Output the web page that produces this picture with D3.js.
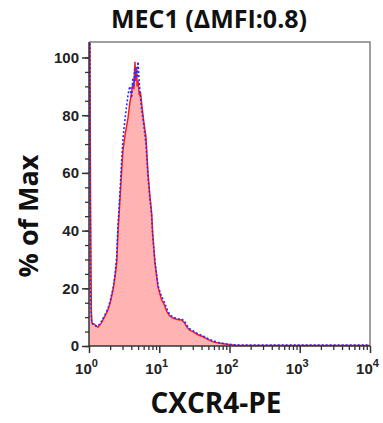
<!DOCTYPE html>
<html>
<head>
<meta charset="utf-8">
<script src="https://cdn.jsdelivr.net/npm/d3@7/dist/d3.min.js"></script>
<style>
  body { margin: 0; background: #fff; }
  .tick text { font-family: "Liberation Sans", Arial, sans-serif; font-weight: bold; fill: #222; }
  .lbl { font-family: "Open Sans", sans-serif; font-weight: bold; fill: #111; }
</style>
</head>
<body>
<div id="chart"></div>
<script>
// CXCR4-PE fluorescence (log), % of Max
const xs = [1.0, 1.03, 1.05, 1.08, 1.1, 1.2, 1.34, 1.5, 1.7, 1.86, 2.0, 2.2, 2.35, 2.48, 2.59,
  2.76, 2.9, 3.05, 3.3, 3.59, 3.8, 4.05, 4.2, 4.35, 4.45, 4.52, 4.6, 4.75, 4.85, 4.98,
  5.2, 5.4, 5.62, 6.0, 6.47, 6.91, 7.3, 7.8, 8.07, 8.7, 9.6, 10.8, 11.5, 12.8, 14,
  15.7, 18, 20.9, 23, 24.6, 27, 30.2, 35, 41.9, 50, 58.2, 70, 91, 120, 200, 1000, 10000];

const redY = [106, 106, 52, 12, 8, 7.5, 6.5, 8, 10.5, 12.5, 15, 19.5, 24, 29, 40,
  51, 60, 68, 74, 79, 84, 88, 91, 89, 95, 98.5, 92, 96, 90, 92,
  87, 88, 84, 78, 72.5, 60, 53, 46, 39, 28.7, 20.5, 16, 15, 12, 10.5,
  9.7, 9.2, 9, 8, 6.7, 5.5, 5, 4, 3.2, 2.2, 1.5, 1, 0.6, 0.3, 0.2, 0.2, 0.2];

const blueY = [106, 106, 20, 10, 8, 7, 6.8, 8.5, 11, 13, 15.5, 20, 25, 31, 42,
  53, 63, 72, 80, 87, 90, 86, 93, 90, 96, 92, 95, 97, 93, 98.5,
  91, 86, 82, 77, 70, 59, 52, 45, 38, 29, 21, 17, 16, 13, 11,
  10, 9.5, 9.3, 8.5, 7.2, 6, 5.3, 4.3, 3.5, 2.5, 1.8, 1.2, 0.7, 0.4, 0.3, 0.3, 0.3];

const yTicks = [0, 20, 40, 60, 80, 100];
const xTicks = [1, 10, 100, 1000, 10000];

const w = 383, h = 423;
const plot = { left: 89, right: 370, top: 42, bottom: 346 };

const svg = d3.select('#chart').append('svg')
  .attr('width', w).attr('height', h);

const x = d3.scaleLog().domain([1, 10000]).range([plot.left, plot.right]);
const y = d3.scaleLinear().domain([0, 100]).range([plot.bottom, 57.5]);

svg.append('clipPath').attr('id', 'clip')
  .append('rect')
  .attr('x', plot.left).attr('y', plot.top)
  .attr('width', plot.right - plot.left).attr('height', plot.bottom - plot.top);

const g = svg.append('g').attr('clip-path', 'url(#clip)');

const redData = xs.map((d, i) => [d, redY[i]]);
const blueData = xs.map((d, i) => [d, blueY[i]]);

const area = d3.area().x(d => x(d[0])).y0(y(0)).y1(d => y(d[1]));
const line = d3.line().x(d => x(d[0])).y(d => y(d[1]));

g.append('path').datum(redData)
  .attr('d', area).attr('fill', '#ffb3b3');
g.append('path').datum(redData)
  .attr('d', line).attr('fill', 'none')
  .attr('stroke', '#ff1a1a').attr('stroke-width', 1.5);
g.append('path').datum(blueData)
  .attr('d', line).attr('fill', 'none')
  .attr('stroke', '#2a2aff').attr('stroke-width', 1.6)
  .attr('stroke-dasharray', '2,2');

// frame top/right
svg.append('path')
  .attr('d', `M${plot.left},${plot.top}H${plot.right}V${plot.bottom}`)
  .attr('fill', 'none').attr('stroke', '#808080').attr('stroke-width', 1.5);

// y axis
const yMinor = d3.range(0, 101, 5);
const yAxisMinor = d3.axisLeft(y).tickValues(yMinor).tickSize(4).tickFormat('');
const yAxis = d3.axisLeft(y).tickValues(yTicks).tickSize(7).tickPadding(3);

svg.append('g').attr('transform', `translate(${plot.left},0)`).call(yAxisMinor)
  .call(s => s.select('.domain').remove())
  .selectAll('line').attr('stroke', '#333').attr('stroke-width', 1.3);

const yg = svg.append('g').attr('transform', `translate(${plot.left},0)`).call(yAxis);
yg.select('.domain').remove();
yg.selectAll('line').attr('stroke', '#333').attr('stroke-width', 1.5);
yg.selectAll('text').style('font-size', '15px');

svg.append('line')
  .attr('x1', plot.left).attr('x2', plot.left)
  .attr('y1', plot.top).attr('y2', plot.bottom)
  .attr('stroke', '#333').attr('stroke-width', 1.5);

// x axis
const xMinor = [];
for (let e = 0; e < 4; e++) for (let k = 2; k <= 9; k++) xMinor.push(k * Math.pow(10, e));
const xAxisMinor = d3.axisBottom(x).tickValues(xMinor).tickSize(4).tickFormat('');
const xAxis = d3.axisBottom(x).tickValues(xTicks).tickSize(7).tickFormat('');

svg.append('g').attr('transform', `translate(0,${plot.bottom})`).call(xAxisMinor)
  .call(s => s.select('.domain').remove())
  .selectAll('line').attr('stroke', '#333').attr('stroke-width', 1.3);

const xg = svg.append('g').attr('transform', `translate(0,${plot.bottom})`).call(xAxis);
xg.select('.domain').remove();
xg.selectAll('line').attr('stroke', '#333').attr('stroke-width', 1.5);

xg.selectAll('.tick').append('text')
  .attr('y', 28).attr('x', -3).attr('text-anchor', 'middle')
  .style('font-size', '15px')
  .each(function (d) {
    const t = d3.select(this);
    t.append('tspan').text('10');
    t.append('tspan').attr('dy', -7).style('font-size', '11px').text(Math.round(Math.log10(d)));
  });

svg.append('line')
  .attr('x1', plot.left).attr('x2', plot.right)
  .attr('y1', plot.bottom).attr('y2', plot.bottom)
  .attr('stroke', '#333').attr('stroke-width', 1.5);

// labels
svg.append('text').attr('class', 'lbl')
  .attr('x', 209).attr('y', 28).attr('text-anchor', 'middle')
  .style('font-size', '25px')
  .text('MEC1 (ΔMFI:0.8)');

svg.append('text').attr('class', 'lbl')
  .attr('transform', 'translate(38,216) rotate(-90)')
  .attr('text-anchor', 'middle')
  .style('font-size', '27px')
  .text('% of Max');

svg.append('text').attr('class', 'lbl')
  .attr('x', 216).attr('y', 413).attr('text-anchor', 'middle')
  .style('font-size', '28px')
  .text('CXCR4-PE');
</script>
</body>
</html>
